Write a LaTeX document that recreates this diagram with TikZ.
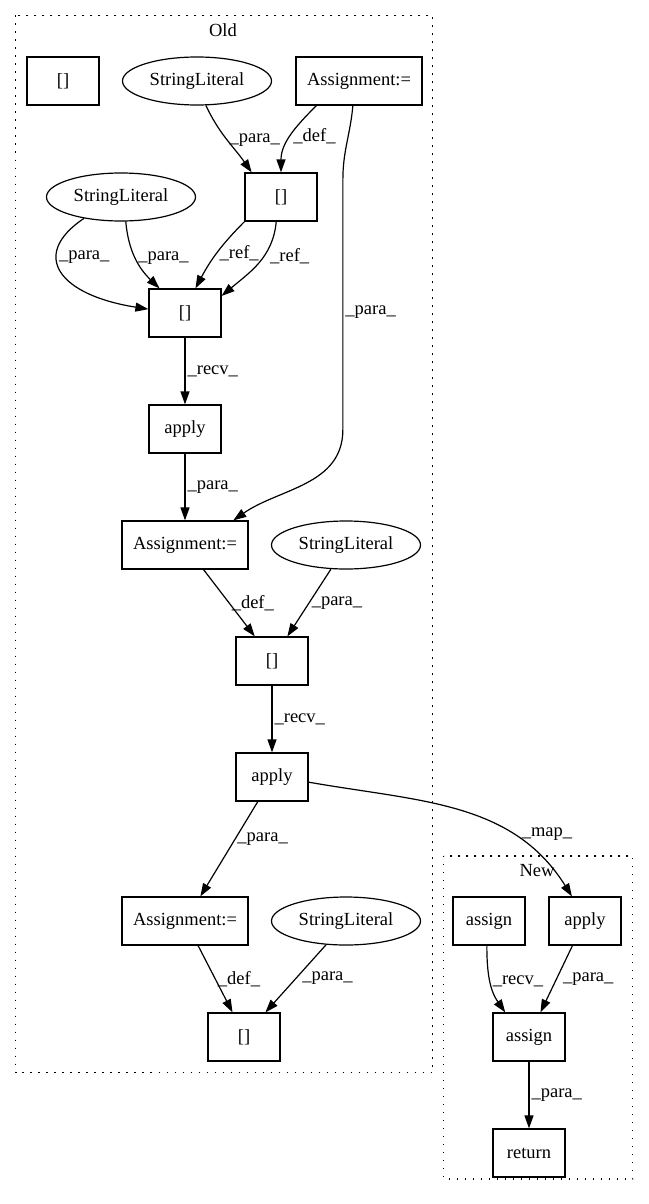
\documentclass[tikz,border=0pt]{standalone}
\usepackage{fontspec}
\setmainfont{Liberation Serif}
\usetikzlibrary{arrows.meta}
\usetikzlibrary{positioning}
\usetikzlibrary{shapes.geometric}

\begin{document}
\begin{tikzpicture}[x=1pt,y=1pt,node distance=116pt,on grid,
    font=\fontsize{18.5}{22}\selectfont,
    >={Triangle[length=13pt,width=9pt]},
    blk/.style={draw,line width=1.2pt,minimum width=72pt,minimum height=48pt,inner sep=0pt},
    wide/.style={blk,minimum width=126pt},
    lit/.style={draw,ellipse,line width=1.2pt,minimum width=149pt,minimum height=48pt,inner sep=0pt},
    lbl/.style={inner sep=2pt,anchor=west},
    clus/.style={draw,line width=1.2pt,dash pattern=on 1.3pt off 6.7pt}]
            \useasboundingbox (0,0) rectangle (648,-1204);
            \draw[clus] (15.5,-15.5) rectangle (432.5,-1072.5);
            \draw[clus] (443.5,-856) rectangle (632.5,-1179);
            \node (old_lbl) at (223,-30) {Old};
            \node (new_lbl) at (537,-871) {New};

            \node[wide] (asg_1) at (359,-81) {Assignment:=};
            \node[blk] (idx_0) [left=296pt of asg_1] {[]};
            \node[lit] (sl_1) [left=162pt of asg_1] {StringLiteral};
            \node[blk] (idx_1) [below left=116pt and 78pt of asg_1] {[]};
            \node[lit] (sl_2) [left=160pt of idx_1] {StringLiteral};
            \node[blk] (idx_2) [below left=116pt and 96pt of idx_1] {[]};
            \node[blk] (app_1) [below=of idx_2] {apply};
            \node[wide] (asg_2) [below=of app_1] {Assignment:=};
            \node[lit] (sl_3) [right=161pt of asg_2] {StringLiteral};
            \node[blk] (idx_3) [below right=116pt and 87pt of asg_2] {[]};
            \node[blk] (app_2) [below=of idx_3] {apply};
            \node[wide] (asg_3) [below left=144pt and 87pt of app_2] {Assignment:=};
            \node[lit] (sl_4) [right=161pt of asg_3] {StringLiteral};
            \node[blk] (idx_4) [below right=116pt and 59pt of asg_3] {[]};
            \node[blk] (app_3) [below right=144pt and 313pt of app_2] {apply};
            \node[blk] (as_1) [left=96pt of app_3] {assign};
            \node[blk] (as_2) [below left=116pt and 56pt of app_3] {assign};
            \node[blk] (ret) [below=of as_2] {return};

            \path[->, line width=1.2pt]
            (sl_1.290) edge[out=-65,in=125] node[lbl] {\_para\_} (idx_1.140)
            (asg_1.210) edge[out=225,in=90] node[lbl] {\_def\_} (idx_1.north)
            (sl_2.281) edge[out=275,in=136] node[lbl] {\_para\_} (idx_2.136)
            (idx_1.214) edge[out=225,in=62] node[lbl] {\_ref\_} (idx_2.67)
            (idx_1.259) edge[out=265,in=40] node[lbl,pos=0.4,xshift=4pt] {\_ref\_} (idx_2.25)
            (idx_2) edge node[lbl] {\_recv\_} (app_1)
            (app_1) edge node[lbl] {\_para\_} (asg_2)
            (asg_2.307) edge node[lbl] {\_def\_} (idx_3.125)
            (sl_3.238) edge node[lbl] {\_para\_} (idx_3.58)
            (idx_3) edge node[lbl] {\_recv\_} (app_2)
            (app_2.240) edge node[lbl,pos=0.4] {\_para\_} (asg_3.58)
            (app_2.-8) edge[out=-10,in=122] node[pos=0.75,anchor=south west,inner sep=0pt] {\_map\_} (app_3.118)
            (asg_3.298) edge node[lbl] {\_def\_} (idx_4.115)
            (sl_4.230) edge node[lbl,xshift=4pt] {\_para\_} (idx_4.49)
            (as_1.265) edge[out=270,in=125] node[lbl] {\_recv\_} (as_2.134)
            (app_3.243) edge node[lbl,xshift=4pt] {\_para\_} (as_2.65)
            (as_2) edge node[lbl] {\_para\_} (ret);
            \draw[->, line width=1.2pt] (sl_2.210) .. controls +(-55,-37) and +(-89,14) .. (idx_2.174)
              node[lbl,pos=0.35] {\_para\_};
            \draw[->, line width=1.2pt] (asg_1.256) to[out=265,in=90] ++(-10,-74)
              -- ++(0,-250) node[lbl,pos=0.53] {\_para\_} to[out=270,in=35] (asg_2.27);
        \end{tikzpicture}
\end{document}
